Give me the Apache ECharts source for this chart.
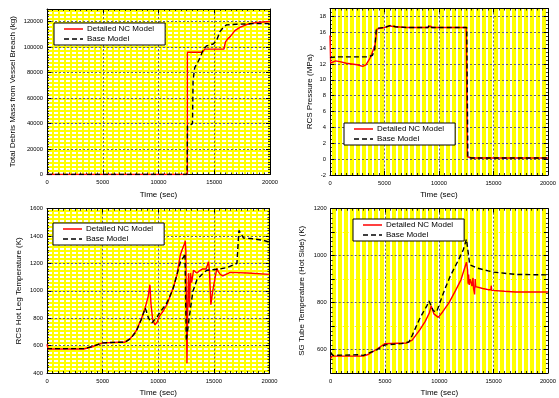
<!DOCTYPE html>
<html><head><meta charset="utf-8">
<script src="https://cdn.jsdelivr.net/npm/echarts@6/dist/echarts.min.js"></script>
<style>html,body{margin:0;padding:0;background:#fff}#c{width:559px;height:398px}</style>
</head><body><div id="c"></div>
<script>
// ---- data: [time (s), value] ----
const massDetailed = [[0,0],[12590,0],[12590,96000],[13930,96000],[14150,98500],[15870,98500],[16000,104000],[16200,106500],[16450,108500],[16850,113000],[17300,115500],[17900,117800],[18500,119000],[19100,119600],[20000,120200]];
const massBase = [[0,0],[12560,0],[12600,38000],[13050,40000],[13100,74000],[13250,84000],[13450,87000],[13750,92000],[14000,98000],[14300,101000],[14900,102500],[15200,105000],[15500,112000],[15800,115500],[16100,117500],[17000,118000],[18500,118500],[20000,118500]];

const presDetailed = [[0,15.6],[60,12.1],[200,12.1],[500,12.4],[900,12.3],[1500,12.1],[2000,12.0],[2500,11.9],[3000,11.7],[3300,11.9],[3700,12.8],[4000,13.9],[4150,14.5],[4300,16.4],[5000,16.6],[5500,16.8],[6000,16.7],[7000,16.6],[8000,16.6],[9000,16.6],[9200,16.8],[9400,16.6],[10000,16.6],[12500,16.6],[12600,0.3],[13000,0.15],[20000,0.15]];
const presBase = [[0,12.8],[500,12.9],[3500,12.9],[3900,13.1],[4100,13.8],[4250,16.5],[5000,16.6],[5600,16.9],[6000,16.7],[7000,16.6],[9000,16.6],[9100,16.9],[9300,16.6],[12550,16.6],[12650,0.2],[13000,0.15],[20000,0.15]];

const hotLegDetailed = [[0,610],[100,575],[3300,575],[4000,590],[5000,620],[6500,625],[7000,625],[7500,653],[8000,706],[8500,798],[8800,870],[8950,880],[9100,960],[9250,1045],[9350,900],[9500,790],[9700,752],[9900,770],[10100,814],[10500,860],[10780,899],[11380,1031],[11680,1116],[11980,1260],[12130,1296],[12280,1308],[12370,1345],[12430,1365],[12480,1290],[12580,472],[12650,900],[12720,1128],[12800,880],[12900,1130],[13000,1060],[13170,1150],[13470,1130],[13770,1150],[14000,1160],[14300,1160],[14520,1212],[14600,1150],[14730,899],[14900,1000],[15120,1100],[15270,1164],[15400,1140],[15570,1120],[15800,1110],[16470,1135],[18000,1130],[20000,1120]];
const hotLegBase = [[0,578],[3300,578],[4000,592],[5000,620],[6500,625],[7000,625],[7500,650],[8000,700],[8500,795],[8830,875],[9130,800],[9430,766],[9600,760],[9900,810],[10200,850],[10700,900],[11300,1007],[12000,1212],[12300,1250],[12400,1275],[12520,634],[12600,620],[12780,802],[13110,995],[13470,1080],[13920,1120],[14370,1150],[15570,1160],[16170,1170],[16770,1190],[17070,1200],[17250,1441],[17660,1386],[18500,1380],[19400,1370],[20000,1355]];

const sgDetailed = [[0,562],[100,572],[3000,572],[3500,580],[4200,600],[5000,625],[5500,626],[7000,628],[7500,640],[8200,684],[8700,720],[9100,758],[9250,786],[9500,752],[9900,737],[10300,760],[10900,800],[11500,852],[12000,898],[12500,972],[12600,940],[12650,880],[12700,920],[12750,875],[12850,900],[13000,870],[13100,905],[13150,860],[13250,835],[13300,900],[13350,868],[13500,870],[14000,860],[14500,855],[14750,855],[14780,872],[14820,852],[15000,850],[16000,848],[17000,845],[20000,845]];
const sgBase = [[0,588],[200,575],[2000,577],[2500,578],[3000,575],[4300,600],[5000,620],[6500,625],[7200,632],[7500,660],[8250,737],[8850,786],[9050,807],[9450,765],[9750,760],[10000,793],[10500,856],[11000,912],[11800,985],[12200,1024],[12500,1070],[12800,961],[13500,947],[14500,935],[15000,930],[16000,925],[17000,920],[20000,918]];

const seriesNames = ['Detailed NC Model', 'Base Model'];
const xName = 'Time (sec)';
const yNames = ['Total Debris Mass from Vessel Breach (kg)', 'RCS Pressure (MPa)', 'RCS Hot Leg Temperature (K)', 'SG Tube Temperature (Hot Side) (K)'];

// ---- background patterns ----
function patH(){const c=document.createElement('canvas');c.width=6;c.height=4;const g=c.getContext('2d');g.fillStyle='#ffff00';g.fillRect(0,0,6,4);g.fillStyle='#ffffff';g.fillRect(0,0,4,2);return c;}
function patV(){const c=document.createElement('canvas');c.width=6;c.height=4;const g=c.getContext('2d');g.fillStyle='#ffff00';g.fillRect(0,0,6,4);g.fillStyle='#ffffff';g.fillRect(0,0,2,4);return c;}

const FONT = '"Liberation Sans", Arial, sans-serif';
const grids = [
  {left:47, top:9, width:223, height:165.5, bg:patH()},
  {left:330, top:8.5, width:224.5, height:166.5, bg:patV()},
  {left:47, top:208.7, width:222.5, height:166, bg:patH()},
  {left:330.7, top:208.7, width:223.6, height:166, bg:patV()}
];
const yCfg = [
  {min:0, max:130000, interval:20000, minor:10, ny:30, split:'#666'},
  {min:-2, max:19, interval:2, minor:4, ny:16, split:'#666'},
  {min:400, max:1600, interval:200, minor:10, ny:24, split:'#666'},
  {min:500, max:1200, interval:100, minor:5, ny:25, split:['#ffff00','#666'], even:true}
];
const dataSets = [[massDetailed, massBase],[presDetailed, presBase],[hotLegDetailed, hotLegBase],[sgDetailed, sgBase]];
const legendPos = [[54,23],[344,123],[53,223],[353,219]];

const iconSolid = 'path://M0,0h19v1.5h-19z';
const iconDash = 'path://M0,0h5v1.5h-5zM8,0h5v1.5h-5zM16,0h3v1.5h-3z';

const option = {animation:false, backgroundColor:'#fff', grid:[], xAxis:[], yAxis:[], series:[], legend:[]};
const tick = {show:true, inside:true, length:4, lineStyle:{color:'#000', width:1}};
const mtick = {show:true, length:2, lineStyle:{color:'#000', width:0.8}};
grids.forEach((g,i)=>{
  option.grid.push({left:g.left, top:g.top, width:g.width, height:g.height, show:true, backgroundColor:{image:g.bg, repeat:'repeat'}, borderWidth:0, containLabel:false});
  const split = {show:true, lineStyle:{color:'#666', width:1, type:[2,2]}};
  option.xAxis.push({type:'value', gridIndex:i, min:0, max:20000, interval:5000, position:'bottom',
    name:xName, nameLocation:'middle', nameGap:16, nameTextStyle:{fontSize:8, fontFamily:FONT, color:'#000'},
    axisLine:{show:true, onZero:false, lineStyle:{color:'#000', width:1}}, axisTick:tick, minorTick:Object.assign({splitNumber:10}, mtick),
    axisLabel:{fontSize:5.8, fontFamily:FONT, color:'#000', margin:5, formatter: v => String(v)}, splitLine:split});
  option.xAxis.push({type:'value', gridIndex:i, min:0, max:20000, interval:5000, position:'top',
    axisLine:{show:true, onZero:false, lineStyle:{color:'#000', width:1}}, axisTick:tick, minorTick:Object.assign({splitNumber:10}, mtick),
    axisLabel:{show:false}, splitLine:{show:false}});
  const y = yCfg[i];
  option.yAxis.push({type:'value', gridIndex:i, min:y.min, max:y.max, interval:y.interval, position:'left',
    name:yNames[i], nameLocation:'middle', nameGap:y.ny, nameTextStyle:{fontSize:8, fontFamily:FONT, color:'#000'},
    axisLine:{show:true, onZero:false, lineStyle:{color:'#000', width:1}}, axisTick:tick, minorTick:Object.assign({splitNumber:y.minor}, mtick),
    axisLabel:{fontSize:5.8, fontFamily:FONT, color:'#000', margin:4, showMaxLabel: (y.max % y.interval === 0),
      formatter: v => (y.even && v % 200 !== 0) ? '' : String(v)},
    splitLine:{show:true, lineStyle:{color:y.split, width:1, type:[2,2]}}});
  option.yAxis.push({type:'value', gridIndex:i, min:y.min, max:y.max, interval:y.interval, position:'right',
    axisLine:{show:true, onZero:false, lineStyle:{color:'#000', width:1}}, axisTick:tick, minorTick:Object.assign({splitNumber:y.minor}, mtick),
    axisLabel:{show:false}, splitLine:{show:false}});
  option.series.push({type:'line', name:seriesNames[0], xAxisIndex:2*i, yAxisIndex:2*i, data:dataSets[i][0], symbol:'none', lineStyle:{color:'#ff0000', width:1.4}, itemStyle:{color:'#ff0000'}, z:3});
  option.series.push({type:'line', name:seriesNames[1], xAxisIndex:2*i, yAxisIndex:2*i, data:dataSets[i][1], symbol:'none', lineStyle:{color:'#000', width:1.4, type:[5,3]}, itemStyle:{color:'#000'}, z:4});
  option.legend.push({data:[{name:seriesNames[0], icon:iconSolid},{name:seriesNames[1], icon:iconDash}], orient:'vertical', left:legendPos[i][0], top:legendPos[i][1], backgroundColor:'#fff', borderColor:'#000', borderWidth:1,
    padding:[2,11,2,10], itemWidth:19, itemHeight:1.5, itemGap:2, selectedMode:false, symbolKeepAspect:false,
    textStyle:{fontSize:8, fontFamily:FONT, color:'#000', padding:[0,0,0,-1]}});
});
const chart = echarts.init(document.getElementById('c'), null, {renderer:'canvas'});
chart.setOption(option);
</script></body></html>
